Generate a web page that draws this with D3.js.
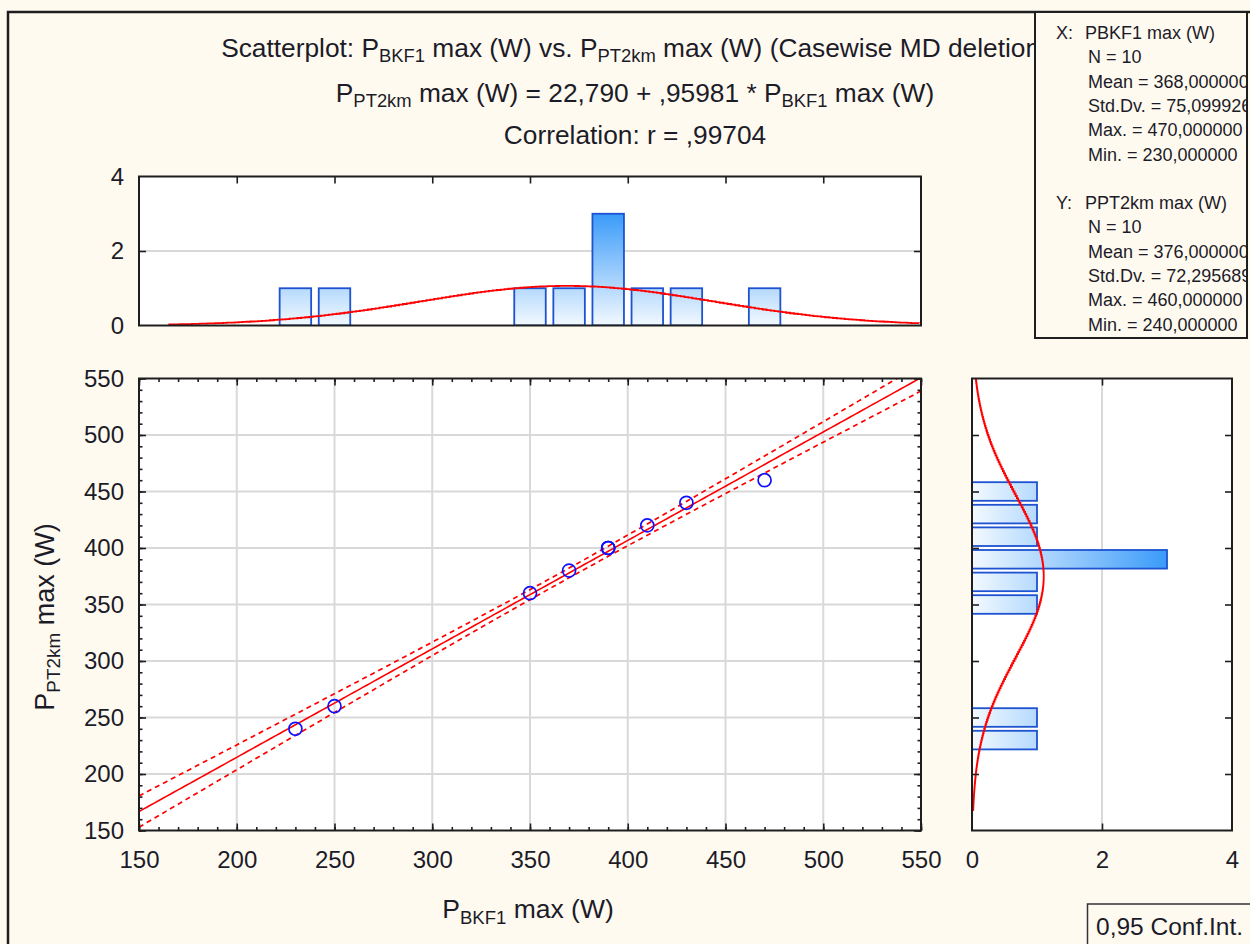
<!DOCTYPE html>
<html>
<head>
<meta charset="utf-8">
<script src="https://cdn.jsdelivr.net/npm/d3@7"></script>
<style>
  html, body { margin: 0; padding: 0; background: #fffaf0; }
  svg { display: block; }
  text { font-family: "Liberation Sans", Arial, sans-serif; fill: #1c1c28; }
</style>
</head>
<body>
<svg id="chart" width="1250" height="944"></svg>
<script>
// ---------------- data ----------------
const xValues = [230, 250, 350, 370, 390, 390, 390, 410, 430, 470];   // P_BKF1 max (W)
const yValues = [240, 260, 360, 380, 400, 400, 400, 420, 440, 460];   // P_PT2km max (W)
const xBinCenters = [230, 250, 350, 370, 390, 410, 430, 470];
const xBinCounts  = [1, 1, 1, 1, 3, 1, 1, 1];
const yBinCenters = [230, 250, 350, 370, 390, 410, 430, 450];
const yBinCounts  = [1, 1, 1, 1, 3, 1, 1, 1];
const binWidth = 20;
const axisTicks = [150, 200, 250, 300, 350, 400, 450, 500, 550];
const countTicks = [0, 2, 4];
const tCrit = 2.306; // t(0.975, df = 8)
const titleLines = [
  [["Scatterplot: P", 0], ["BKF1", 1], [" max (W) vs. P", 0], ["PT2km", 1], [" max (W) (Casewise MD deletion)", 0]],
  [["P", 0], ["PT2km", 1], [" max (W) = 22,790 + ,95981 * P", 0], ["BKF1", 1], [" max (W)", 0]],
  [["Correlation: r = ,99704", 0]]
];
const xLabel = [["P", 0], ["BKF1", 1], [" max (W)", 0]];
const yLabel = [["P", 0], ["PT2km", 1], [" max (W)", 0]];
const statsXHead = ["X:", "PBKF1 max (W)"];
const statsYHead = ["Y:", "PPT2km max (W)"];
const statsX = ["N = 10", "Mean = 368,000000", "Std.Dv. = 75,099926", "Max. = 470,000000", "Min. = 230,000000"];
const statsY = ["N = 10", "Mean = 376,000000", "Std.Dv. = 72,295689", "Max. = 460,000000", "Min. = 240,000000"];
const legendText = "0,95 Conf.Int.";

// ---------------- layout ----------------
const svg = d3.select("#chart");
const ink = "#1e1e1e";
const grid = "#d9d9d9";

const sc = { l: 139, r: 921, t: 378.5, b: 830.5 };     // scatter
const th = { l: 139, r: 921, t: 176.5, b: 325.5 };     // top histogram
const rh = { l: 972, r: 1232, t: 378.5, b: 830.5 };    // right histogram

const x = d3.scaleLinear().domain([150, 550]).range([sc.l, sc.r]);
const y = d3.scaleLinear().domain([150, 550]).range([sc.b, sc.t]);
const hy = d3.scaleLinear().domain([0, 4]).range([th.b, th.t]);
const hx = d3.scaleLinear().domain([0, 4]).range([rh.l, rh.r]);

// background + outer frame
svg.append("rect").attr("width", 1250).attr("height", 944).attr("fill", "#fffaf0");
svg.append("rect").attr("x", 8).attr("y", 12).attr("width", 1260).attr("height", 960)
  .attr("fill", "none").attr("stroke", ink).attr("stroke-width", 2.5);

const defs = svg.append("defs");
const gTop = defs.append("linearGradient").attr("id", "gTop").attr("gradientUnits", "userSpaceOnUse")
  .attr("x1", 0).attr("x2", 0).attr("y1", hy(0)).attr("y2", hy(3));
gTop.append("stop").attr("offset", 0).attr("stop-color", "#f3f9ff");
gTop.append("stop").attr("offset", 1).attr("stop-color", "#3a9bf9");
const gRight = defs.append("linearGradient").attr("id", "gRight").attr("gradientUnits", "userSpaceOnUse")
  .attr("y1", 0).attr("y2", 0).attr("x1", hx(0)).attr("x2", hx(3));
gRight.append("stop").attr("offset", 0).attr("stop-color", "#f3f9ff");
gRight.append("stop").attr("offset", 1).attr("stop-color", "#3a9bf9");
defs.append("clipPath").attr("id", "clipSc").append("rect")
  .attr("x", sc.l).attr("y", sc.t).attr("width", sc.r - sc.l).attr("height", sc.b - sc.t);
defs.append("clipPath").attr("id", "clipTh").append("rect")
  .attr("x", th.l).attr("y", th.t).attr("width", th.r - th.l).attr("height", th.b - th.t);
defs.append("clipPath").attr("id", "clipRh").append("rect")
  .attr("x", rh.l).attr("y", rh.t).attr("width", rh.r - rh.l).attr("height", rh.b - rh.t);
defs.append("clipPath").attr("id", "clipStats").append("rect")
  .attr("x", 1036).attr("y", 13).attr("width", 210).attr("height", 324);

function rich(sel, parts, size) {
  parts.forEach(([s, sub]) => {
    const t = sel.append("tspan").text(s);
    if (sub) t.attr("font-size", size * 0.7).attr("baseline-shift", "-30%");
  });
  return sel;
}

// ---------------- stats ----------------
const n = xValues.length;
const mx = d3.mean(xValues), my = d3.mean(yValues);
const sdx = d3.deviation(xValues), sdy = d3.deviation(yValues);
const sxx = d3.sum(xValues, v => (v - mx) ** 2);
const sxy = d3.sum(xValues, (v, i) => (v - mx) * (yValues[i] - my));
const slope = sxy / sxx, icpt = my - slope * mx;
const sse = d3.sum(xValues, (v, i) => (yValues[i] - (icpt + slope * v)) ** 2);
const se = Math.sqrt(sse / (n - 2));

// ---------------- plot areas ----------------
[sc, th, rh].forEach(p => svg.append("rect").attr("x", p.l).attr("y", p.t)
  .attr("width", p.r - p.l).attr("height", p.b - p.t).attr("fill", "#ffffff"));

// grids
const gg = svg.append("g").attr("stroke", grid).attr("stroke-width", 2);
axisTicks.slice(1, -1).forEach(v => {
  gg.append("line").attr("x1", x(v)).attr("x2", x(v)).attr("y1", sc.t).attr("y2", sc.b);
  gg.append("line").attr("y1", y(v)).attr("y2", y(v)).attr("x1", sc.l).attr("x2", sc.r);
});
gg.append("line").attr("x1", th.l).attr("x2", th.r).attr("y1", hy(2)).attr("y2", hy(2));
gg.append("line").attr("x1", hx(2)).attr("x2", hx(2)).attr("y1", rh.t).attr("y2", rh.b);

// ---------------- scatter ----------------
const gs = svg.append("g").attr("clip-path", "url(#clipSc)");
const xs = d3.range(150, 551, 2);
const fit = v => icpt + slope * v;
const half = v => tCrit * se * Math.sqrt(1 / n + (v - mx) ** 2 / sxx);
const ln = d3.line().x(d => x(d[0])).y(d => y(d[1]));
gs.append("path").attr("d", ln(xs.map(v => [v, fit(v)])))
  .attr("fill", "none").attr("stroke", "#ff0000").attr("stroke-width", 1.6);
[1, -1].forEach(s => gs.append("path").attr("d", ln(xs.map(v => [v, fit(v) + s * half(v)])))
  .attr("fill", "none").attr("stroke", "#ff0000").attr("stroke-width", 1.7).attr("stroke-dasharray", "5,4"));
gs.selectAll("circle").data(xValues).join("circle")
  .attr("cx", d => x(d)).attr("cy", (d, i) => y(yValues[i])).attr("r", 6.5)
  .attr("fill", "none").attr("stroke", "#1010ff").attr("stroke-width", 1.7);

// ---------------- top histogram ----------------
const gt = svg.append("g").attr("clip-path", "url(#clipTh)");
gt.selectAll("rect").data(xBinCenters).join("rect")
  .attr("x", d => x(d - binWidth / 2) + 3.8)
  .attr("width", d => x(d + binWidth / 2) - x(d - binWidth / 2) - 7.6)
  .attr("y", (d, i) => hy(xBinCounts[i]))
  .attr("height", (d, i) => hy(0) - hy(xBinCounts[i]))
  .attr("fill", "url(#gTop)").attr("stroke", "#1d52d0").attr("stroke-width", 1.8);
const pdf = (v, m, s) => Math.exp(-0.5 * ((v - m) / s) ** 2) / (s * Math.sqrt(2 * Math.PI));
const nx = d3.range(165, 551, 2).map(v => [v, n * binWidth * pdf(v, mx, sdx)]);
gt.append("path").attr("d", d3.line().x(d => x(d[0])).y(d => hy(d[1])).curve(d3.curveStepAfter)(nx))
  .attr("fill", "none").attr("stroke", "#ff0000").attr("stroke-width", 1.8);

// ---------------- right histogram ----------------
const gr = svg.append("g").attr("clip-path", "url(#clipRh)");
gr.selectAll("rect").data(yBinCenters).join("rect")
  .attr("x", hx(0) - 2)
  .attr("width", (d, i) => hx(yBinCounts[i]) - hx(0) + 2)
  .attr("y", d => y(d + binWidth / 2) + 2)
  .attr("height", d => y(d - binWidth / 2) - y(d + binWidth / 2) - 4)
  .attr("fill", "url(#gRight)").attr("stroke", "#1d52d0").attr("stroke-width", 1.8);
const ny = d3.range(168, 551, 2).map(v => [v, n * binWidth * pdf(v, my, sdy)]);
gr.append("path").attr("d", d3.line().y(d => y(d[0])).x(d => hx(d[1])).curve(d3.curveStepAfter)(ny))
  .attr("fill", "none").attr("stroke", "#ff0000").attr("stroke-width", 1.8);

// ---------------- frames & ticks ----------------
[sc, th, rh].forEach(p => svg.append("rect").attr("x", p.l).attr("y", p.t)
  .attr("width", p.r - p.l).attr("height", p.b - p.t)
  .attr("fill", "none").attr("stroke", ink).attr("stroke-width", 2));

const minorTicks = d3.range(150, 551, 10);
function ticksOnly(axis, tr) {
  const g = svg.append("g").attr("transform", tr).call(axis);
  g.select(".domain").remove();
  g.selectAll(".tick text").remove();
  g.selectAll(".tick line").attr("stroke", ink).attr("stroke-width", 1.6);
  return g;
}
function labelAxis(axis, tr, size) {
  const g = svg.append("g").attr("transform", tr).call(axis);
  g.select(".domain").remove();
  g.selectAll(".tick line").remove();
  g.selectAll(".tick text").attr("font-size", size).attr("font-family", "Liberation Sans, Arial, sans-serif")
    .attr("fill", "#1c1c28");
  return g;
}
// scatter ticks (inward)
ticksOnly(d3.axisBottom(x).tickValues(axisTicks).tickSize(-7), `translate(0,${sc.b})`);
ticksOnly(d3.axisBottom(x).tickValues(minorTicks).tickSize(-3.5), `translate(0,${sc.b})`);
ticksOnly(d3.axisTop(x).tickValues(axisTicks).tickSize(-7), `translate(0,${sc.t})`);
ticksOnly(d3.axisTop(x).tickValues(minorTicks).tickSize(-3.5), `translate(0,${sc.t})`);
ticksOnly(d3.axisLeft(y).tickValues(axisTicks).tickSize(-7), `translate(${sc.l},0)`);
ticksOnly(d3.axisLeft(y).tickValues(minorTicks).tickSize(-3.5), `translate(${sc.l},0)`);
ticksOnly(d3.axisRight(y).tickValues(axisTicks).tickSize(-7), `translate(${sc.r},0)`);
ticksOnly(d3.axisRight(y).tickValues(minorTicks).tickSize(-3.5), `translate(${sc.r},0)`);
// top hist ticks
ticksOnly(d3.axisTop(x).tickValues(axisTicks.slice(1, -1)).tickSize(-7), `translate(0,${th.t})`);
ticksOnly(d3.axisLeft(hy).tickValues([2]).tickSize(-7), `translate(${th.l},0)`);
ticksOnly(d3.axisRight(hy).tickValues([2]).tickSize(-7), `translate(${th.r},0)`);
// right hist ticks
ticksOnly(d3.axisLeft(y).tickValues(axisTicks.slice(1, -1)).tickSize(-7), `translate(${rh.l},0)`);
ticksOnly(d3.axisRight(y).tickValues(axisTicks.slice(1, -1)).tickSize(-7), `translate(${rh.r},0)`);
ticksOnly(d3.axisTop(hx).tickValues([2]).tickSize(-7), `translate(0,${rh.t})`);
ticksOnly(d3.axisBottom(hx).tickValues([2]).tickSize(-7), `translate(0,${rh.b})`);

// tick labels
const fmt = d3.format("d");
labelAxis(d3.axisBottom(x).tickValues(axisTicks).tickFormat(fmt).tickSize(0).tickPadding(20), `translate(0,${sc.b})`, 24);
labelAxis(d3.axisLeft(y).tickValues(axisTicks).tickFormat(fmt).tickSize(0).tickPadding(15), `translate(${sc.l},0)`, 24);
labelAxis(d3.axisLeft(hy).tickValues(countTicks).tickFormat(fmt).tickSize(0).tickPadding(15), `translate(${th.l},0)`, 24);
labelAxis(d3.axisBottom(hx).tickValues(countTicks).tickFormat(fmt).tickSize(0).tickPadding(20), `translate(0,${rh.b})`, 24);

// axis titles
rich(svg.append("text").attr("x", 528).attr("y", 918).attr("text-anchor", "middle").attr("font-size", 26.5), xLabel, 26.5);
rich(svg.append("text").attr("transform", "translate(54,617) rotate(-90)").attr("text-anchor", "middle").attr("font-size", 27), yLabel, 27);

// titles
const titleY = [57, 102, 144];
titleLines.forEach((parts, i) => rich(svg.append("text").attr("x", 635).attr("y", titleY[i])
  .attr("text-anchor", "middle").attr("font-size", 26.3), parts, 26.3));

// stats box
svg.append("rect").attr("x", 1035).attr("y", 12).attr("width", 212).attr("height", 326)
  .attr("fill", "#fffaf0").attr("stroke", ink).attr("stroke-width", 2);
const gst = svg.append("g").attr("clip-path", "url(#clipStats)");
[[statsXHead, statsX, 39], [statsYHead, statsY, 209]].forEach(([head, lines, y0]) => {
  gst.append("text").attr("x", 1056).attr("y", y0).attr("font-size", 18).text(head[0]);
  gst.append("text").attr("x", 1085).attr("y", y0).attr("font-size", 18).text(head[1]);
  lines.forEach((s, i) => gst.append("text").attr("x", 1088).attr("y", y0 + (i + 1) * 24.3)
    .attr("font-size", 18).text(s));
});

// legend box
svg.append("rect").attr("x", 1087.5).attr("y", 904).attr("width", 200).attr("height", 60)
  .attr("fill", "#fffaf0").attr("stroke", "#333").attr("stroke-width", 1.5);
svg.append("text").attr("x", 1096).attr("y", 935).attr("font-size", 24.5).text(legendText);
</script>
</body>
</html>
